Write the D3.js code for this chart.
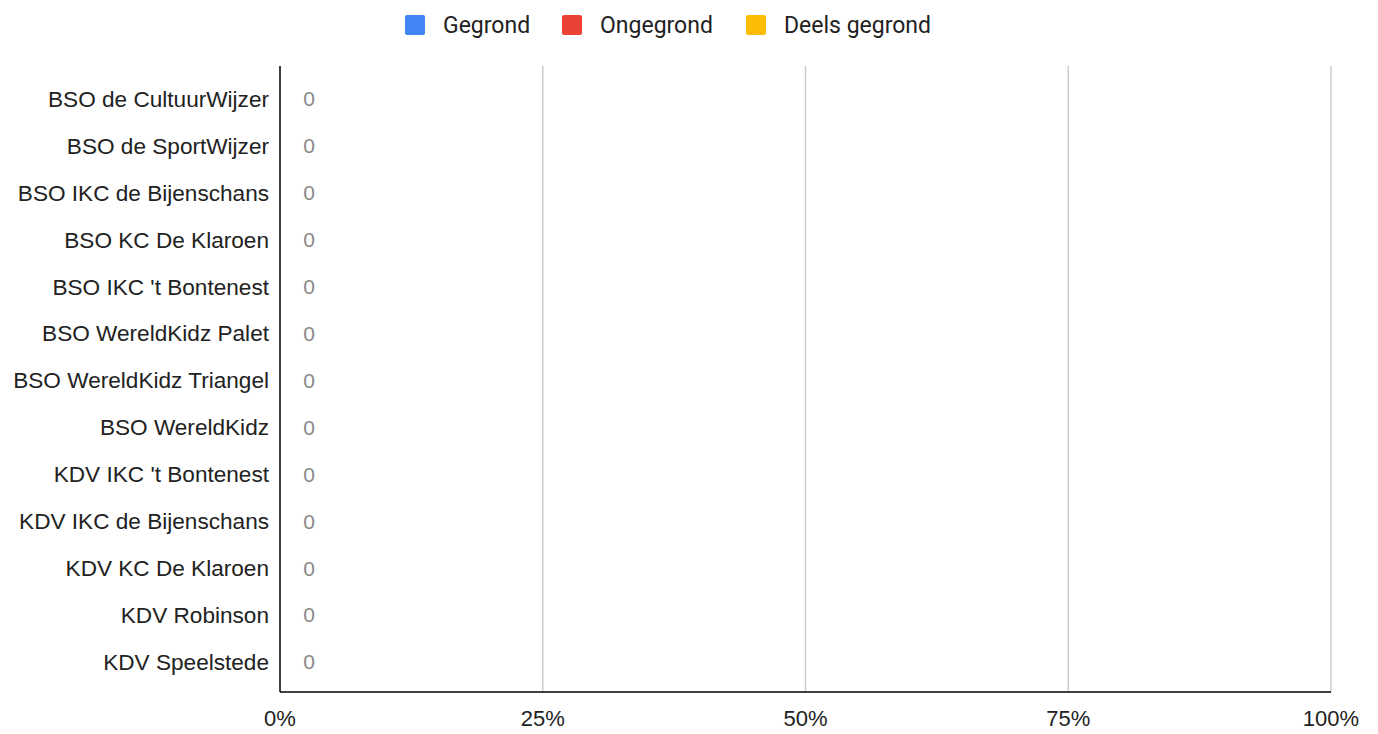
<!DOCTYPE html>
<html>
<head>
<meta charset="utf-8">
<script src="https://cdn.jsdelivr.net/npm/d3@7"></script>
<style>
  body { margin: 0; background: #fff; }
  svg { display: block; }
</style>
</head>
<body>
<div id="chart"></div>
<script>
var categories = ["BSO de CultuurWijzer", "BSO de SportWijzer", "BSO IKC de Bijenschans",
  "BSO KC De Klaroen", "BSO IKC 't Bontenest", "BSO WereldKidz Palet",
  "BSO WereldKidz Triangel", "BSO WereldKidz", "KDV IKC 't Bontenest",
  "KDV IKC de Bijenschans", "KDV KC De Klaroen", "KDV Robinson", "KDV Speelstede"];
var seriesNames = ["Gegrond", "Ongegrond", "Deels gegrond"];
var seriesColors = ["#4285f4", "#ea4335", "#fbbc04"];
var gegrond      = [0, 0, 0, 0, 0, 0, 0, 0, 0, 0, 0, 0, 0];
var ongegrond    = [0, 0, 0, 0, 0, 0, 0, 0, 0, 0, 0, 0, 0];
var deelsGegrond = [0, 0, 0, 0, 0, 0, 0, 0, 0, 0, 0, 0, 0];
var xTicks = [0, 0.25, 0.5, 0.75, 1];

var w = 1378, h = 734;
var plotLeft = 280, plotRight = 1331, plotTop = 66, plotBottom = 692;
var arial = "Arial, 'Liberation Sans', sans-serif";

var svg = d3.select("#chart").append("svg")
  .attr("width", w)
  .attr("height", h);

var x = d3.scaleLinear().domain([0, 1]).range([plotLeft, plotRight]);
var y = d3.scaleBand().domain(categories).range([75.5, 685.5]);

// grid lines
svg.append("g").selectAll("line")
  .data(xTicks.slice(1))
  .enter().append("line")
  .attr("x1", function(d) { return x(d); })
  .attr("x2", function(d) { return x(d); })
  .attr("y1", plotTop)
  .attr("y2", plotBottom)
  .attr("stroke", "#cccccc")
  .attr("stroke-width", 1.5);

// stacked 100% bars (all values are zero, so nothing shows)
var rows = categories.map(function(c, i) {
  return { cat: c, Gegrond: gegrond[i], Ongegrond: ongegrond[i], "Deels gegrond": deelsGegrond[i] };
});
var stacked = d3.stack().keys(seriesNames).offset(d3.stackOffsetExpand)(rows);

svg.append("g").selectAll("g")
  .data(stacked)
  .enter().append("g")
  .attr("fill", function(d, i) { return seriesColors[i]; })
  .selectAll("rect")
  .data(function(d) { return d; })
  .enter().append("rect")
  .attr("x", function(d) { return x(isNaN(d[0]) ? 0 : d[0]); })
  .attr("width", function(d) { return isNaN(d[1] - d[0]) ? 0 : x(d[1]) - x(d[0]); })
  .attr("y", function(d) { return y(d.data.cat) + y.bandwidth() * 0.1; })
  .attr("height", y.bandwidth() * 0.8);

// value labels
svg.append("g").selectAll("text")
  .data(rows)
  .enter().append("text")
  .attr("x", x(0) + 29)
  .attr("y", function(d) { return y(d.cat) + y.bandwidth() / 2; })
  .attr("dy", "0.35em")
  .attr("text-anchor", "middle")
  .attr("font-family", arial)
  .attr("font-size", 21)
  .attr("fill", "#8a8a8a")
  .text(function(d) { return d.Gegrond + d.Ongegrond + d["Deels gegrond"]; });

// category labels
svg.append("g").selectAll("text")
  .data(categories)
  .enter().append("text")
  .attr("x", plotLeft - 11)
  .attr("y", function(d) { return y(d) + y.bandwidth() / 2; })
  .attr("dy", "0.35em")
  .attr("text-anchor", "end")
  .attr("font-family", arial)
  .attr("font-size", 22.6)
  .attr("fill", "#222")
  .text(function(d) { return d; });

// axis lines
svg.append("line")
  .attr("x1", plotLeft).attr("x2", plotLeft)
  .attr("y1", plotTop).attr("y2", plotBottom)
  .attr("stroke", "#000").attr("stroke-width", 1.5);
svg.append("line")
  .attr("x1", plotLeft).attr("x2", plotRight)
  .attr("y1", plotBottom).attr("y2", plotBottom)
  .attr("stroke", "#000").attr("stroke-width", 1.5);

// x tick labels
svg.append("g").selectAll("text")
  .data(xTicks)
  .enter().append("text")
  .attr("x", function(d) { return x(d); })
  .attr("y", 726)
  .attr("text-anchor", "middle")
  .attr("font-family", arial)
  .attr("font-size", 22)
  .attr("fill", "#222")
  .text(d3.format(".0%"));

// legend
var legendX = [405, 562, 746];
var legend = svg.append("g").selectAll("g")
  .data(seriesNames)
  .enter().append("g")
  .attr("transform", function(d, i) { return "translate(" + legendX[i] + ",15)"; });
legend.append("rect")
  .attr("width", 20).attr("height", 20)
  .attr("rx", 2)
  .attr("fill", function(d, i) { return seriesColors[i]; });
legend.append("text")
  .attr("x", 38)
  .attr("y", 10)
  .attr("dy", "0.35em")
  .attr("font-family", "Roboto, Arial, sans-serif")
  .attr("font-size", 23)
  .attr("fill", "#222")
  .text(function(d) { return d; });
</script>
</body>
</html>
